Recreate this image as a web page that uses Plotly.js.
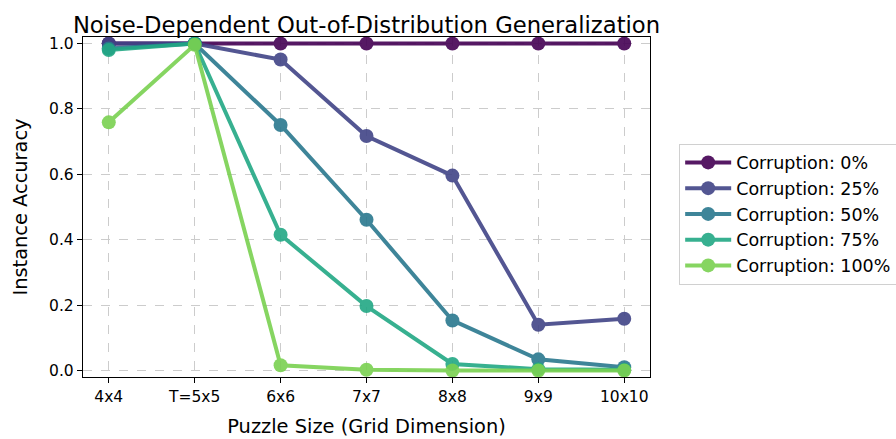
<!DOCTYPE html>
<html>
<head>
<meta charset="utf-8">
<script src="https://cdn.plot.ly/plotly-3.0.1.min.js"></script>
<style>
  html, body { margin: 0; padding: 0; background: #fff; }
  #chart { width: 896px; height: 439px; }
</style>
</head>
<body>
<div id="chart"></div>
<script>
// Puzzle sizes evaluated (T marks the training size)
const puzzleSizes = ["4x4", "T=5x5", "6x6", "7x7", "8x8", "9x9", "10x10"];

// Instance accuracy per corruption level
const corruptionLabels = ["Corruption: 0%", "Corruption: 25%", "Corruption: 50%", "Corruption: 75%", "Corruption: 100%"];
const acc0   = [1.0, 1.0, 1.0, 1.0, 1.0, 1.0, 1.0];
const acc25  = [1.0, 1.0, 0.951, 0.717, 0.596, 0.140, 0.158];
const acc50  = [0.985, 1.0, 0.751, 0.461, 0.153, 0.034, 0.010];
const acc75  = [0.980, 1.0, 0.415, 0.197, 0.020, 0.004, 0.002];
const acc100 = [0.759, 0.996, 0.016, 0.002, 0.0, 0.0, 0.0];

// Viridis samples from 0 to 0.8
const lineColors = ["#440154", "#414487", "#2a788e", "#22a884", "#7ad151"];

const series = [acc0, acc25, acc50, acc75, acc100];

const traces = series.map((vals, i) => ({
  x: puzzleSizes,
  y: vals,
  name: corruptionLabels[i],
  legendgroup: "c" + i,
  type: "scatter",
  mode: "lines+markers",
  opacity: 0.9,
  line: { color: lineColors[i], width: 4 },
  marker: { color: lineColors[i], size: 14 }
}));

const font = "DejaVu Sans, Liberation Sans, sans-serif";

const layout = {
  width: 896,
  height: 439,
  margin: { l: 83, r: 246, t: 37, b: 62 },
  paper_bgcolor: "#fff",
  plot_bgcolor: "#fff",
  font: { family: font, color: "#000", size: 15.5 },
  title: {
    text: "Noise-Dependent Out-of-Distribution Generalization",
    font: { family: font, size: 22.7, color: "#000" },
    x: 0.5, xref: "paper", xanchor: "center",
    y: 1, yref: "paper", yanchor: "bottom", pad: { b: 4 }
  },
  xaxis: {
    type: "category",
    range: [-0.3, 6.3],
    title: { text: "Puzzle Size (Grid Dimension)", font: { size: 19.4 }, standoff: 14 },
    showline: true, mirror: true, linecolor: "#000", linewidth: 1.2,
    ticks: "outside", ticklen: 5, tickcolor: "#000",
    showgrid: true, gridcolor: "#cccccc", griddash: "dash", gridwidth: 1,
    zeroline: false,
    automargin: false,
    tickfont: { size: 15.5 }
  },
  yaxis: {
    range: [-0.02, 1.02],
    tickvals: [0, 0.2, 0.4, 0.6, 0.8, 1.0],
    tickformat: ".1f",
    title: { text: "Instance Accuracy", font: { size: 19.4 }, standoff: 16 },
    showline: true, mirror: true, linecolor: "#000", linewidth: 1.2,
    ticks: "outside", ticklen: 5, tickcolor: "#000",
    showgrid: true, gridcolor: "#cccccc", griddash: "dash", gridwidth: 1,
    zeroline: false,
    automargin: false,
    tickfont: { size: 15.5 }
  },
  showlegend: true,
  legend: {
    x: 0.758, xref: "container", xanchor: "left",
    y: 0.5125, yref: "container", yanchor: "middle",
    bgcolor: "#fff",
    bordercolor: "#d0d0d0", borderwidth: 1,
    font: { size: 17.5, family: font },
    tracegroupgap: 0,
    itemwidth: 46
  }
};

Plotly.newPlot("chart", traces, layout, { displayModeBar: false, staticPlot: true });
</script>
</body>
</html>
